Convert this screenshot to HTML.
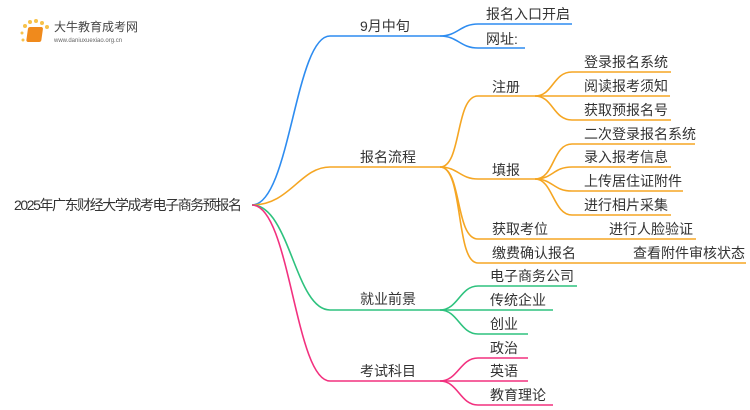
<!DOCTYPE html>
<html><head><meta charset="utf-8"><style>
html,body{margin:0;padding:0;background:#fff;width:750px;height:410px;overflow:hidden}
text{font-family:"Liberation Sans","Noto Sans CJK SC",sans-serif;font-size:14px;fill:#333}
</style></head><body>
<svg width="750" height="410" viewBox="0 0 750 410" xmlns="http://www.w3.org/2000/svg">
<g fill="none" stroke-width="1.6">
<g stroke="#2d8cf0">
<path d="M252 205 C290 205 295 36 330 36 L440 36"/>
<path d="M440 36 C458 36 460 24 478 24 L572 24"/>
<path d="M440 36 C458 36 460 48 478 48 L525 48"/>
</g>
<g stroke="#f5a623">
<path d="M252 205 C290 205 300 167 330 167 L440 167"/>
<path d="M440 167 C462 167 455 96 478 96 L535 96"/>
<path d="M535 96 C553 96 553 72 572 72 L671 72"/>
<path d="M535 96 L670 96"/>
<path d="M535 96 C553 96 553 120 572 120 L671 120"/>
<path d="M440 167 C458 167 460 179 478 179 L535 179"/>
<path d="M535 179 C555 179 552 144 572 144 L695 144"/>
<path d="M535 179 C553 179 553 167 572 167 L671 167"/>
<path d="M535 179 C553 179 553 191 572 191 L683 191"/>
<path d="M535 179 C553 179 553 215 572 215 L671 215"/>
<path d="M440 167 C462 167 455 239 478 239 L696 239"/>
<path d="M440 167 C464 167 455 263 478 263 L746 263"/>
</g>
<g stroke="#2ec27e">
<path d="M252 205 C290 205 295 310 330 310 L440 310"/>
<path d="M440 310 C458 310 460 286 478 286 L577 286"/>
<path d="M440 310 L553 310"/>
<path d="M440 310 C458 310 460 334 478 334 L528 334"/>
</g>
<g stroke="#f2317f">
<path d="M252 205 C290 205 295 381 330 381 L440 381"/>
<path d="M440 381 C458 381 460 358 478 358 L528 358"/>
<path d="M440 381 L528 381"/>
<path d="M440 381 C458 381 460 405 478 405 L553 405"/>
</g>
</g>
<text x="14" y="210" textLength="228">2025年广东财经大学成考电子商务预报名</text>
<text x="360" y="31">9月中旬</text>
<text x="486" y="19">报名入口开启</text>
<text x="486" y="44">网址:</text>
<text x="360" y="162">报名流程</text>
<text x="492" y="92">注册</text>
<text x="584" y="67">登录报名系统</text>
<text x="584" y="91">阅读报考须知</text>
<text x="584" y="115">获取预报名号</text>
<text x="492" y="175">填报</text>
<text x="584" y="139">二次登录报名系统</text>
<text x="584" y="162">录入报考信息</text>
<text x="584" y="186">上传居住证附件</text>
<text x="584" y="210">进行相片采集</text>
<text x="492" y="234">获取考位</text>
<text x="609" y="234">进行人脸验证</text>
<text x="492" y="258">缴费确认报名</text>
<text x="633" y="258">查看附件审核状态</text>
<text x="360" y="304">就业前景</text>
<text x="490" y="281">电子商务公司</text>
<text x="490" y="305">传统企业</text>
<text x="490" y="329">创业</text>
<text x="360" y="376">考试科目</text>
<text x="490" y="353">政治</text>
<text x="490" y="376">英语</text>
<text x="490" y="400">教育理论</text>
<g>
<circle cx="25" cy="26" r="2" fill="#f7c24a"/><circle cx="30" cy="22" r="2" fill="#f7c24a"/>
<circle cx="36" cy="21" r="2" fill="#f7c24a"/><circle cx="42" cy="23" r="2" fill="#f7c24a"/>
<circle cx="47" cy="27" r="2" fill="#f7c24a"/><circle cx="22" cy="33" r="1.5" fill="#f7c24a"/>
<circle cx="23" cy="40" r="1.5" fill="#f7c24a"/>
<rect x="32" y="27" width="15" height="15" rx="2" fill="#f08a1c" transform="skewX(-8)"/>
<text x="54" y="31" style="font-size:12px;fill:#444">大牛教育成考网</text>
<text x="54" y="42" style="font-size:6px;fill:#666">www.daniuxuexiao.org.cn</text>
</g>
</svg>
</body></html>
